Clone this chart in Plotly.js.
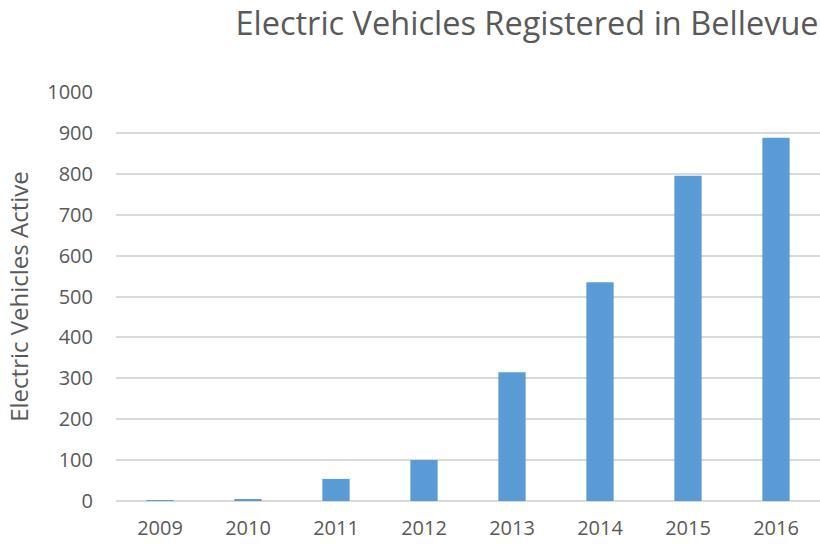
<!DOCTYPE html>
<html><head><meta charset="utf-8">
<script src="https://cdn.plot.ly/plotly-3.0.1.min.js"></script>
<style>html,body{margin:0;padding:0;background:#fff}#chart{width:820px;height:544px}</style>
</head><body><div id="chart"></div>
<script>
const years = ['2009','2010','2011','2012','2013','2014','2015','2016'];
const activeEVs = [1, 3, 54, 100, 315, 535, 795, 888];
const yTicks = [0,100,200,300,400,500,600,700,800,900,1000];

const fontFam = '"Open Sans", "Noto Sans", sans-serif';
Plotly.newPlot('chart', [{
  type: 'bar', x: years, y: activeEVs,
  marker: {color: '#5b9bd5', line: {width: 0}},
  hoverinfo: 'x+y'
}], {
  width: 820, height: 544,
  margin: {l: 116, r: 0, t: 92, b: 43},
  paper_bgcolor: '#ffffff', plot_bgcolor: '#ffffff',
  bargap: 0.69,
  font: {family: fontFam, color: '#595959'},
  title: {text: 'Electric Vehicles Registered in Bellevue', font: {size: 32.5, color: '#595959', family: fontFam},
          x: 0.998, xanchor: 'right', y: 0.957, yanchor: 'middle', xref: 'paper'},
  xaxis: {type: 'category', tickfont: {size: 20, color: '#595959'}, showgrid: false, zeroline: false,
          showline: false, ticks: '', ticklabelstandoff: 13},
  yaxis: {range: [0, 1000], tickvals: yTicks, tickfont: {size: 20, color: '#595959'},
          gridcolor: '#d9d9d9', gridwidth: 1.5, zeroline: true, zerolinecolor: '#d9d9d9', zerolinewidth: 1.5,
          showline: false, ticks: '', ticklabelstandoff: 22,
          title: {text: 'Electric Vehicles Active', font: {size: 24, color: '#595959'}, standoff: 11}},
  showlegend: false
}, {displayModeBar: false});
</script></body></html>
